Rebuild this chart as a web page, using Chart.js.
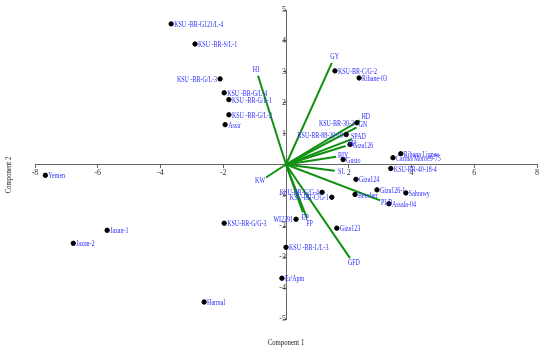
<!DOCTYPE html>
<html>
<head>
<meta charset="utf-8">
<script src="https://cdn.jsdelivr.net/npm/chart.js@4"></script>
<style>
  html, body { margin: 0; padding: 0; background: #fff; }
  #wrap { width: 550px; height: 356px; }
</style>
</head>
<body>
<div id="wrap"><canvas id="biplot"></canvas></div>
<script>
// genotype scores (Component 1 / Component 2)
const genotypes = [
    "KSU -BR-G121/L-4", "KSU -BR-S/L-1", "KSU -BR-G/L-3", "KSU -BR-G/L-4", "KSU -BR-G/L-1",
    "KSU -BR-G/L-2", "Assir", "KSU-BR-C/G-2", "Rihane-03", "KSU-BR-30-2",
    "KSU-BR-88-20-10", "Giza126", "Gusto", "Rihana Lignee", "Carina/Moroc9-75",
    "KSU-BR-40-18-4", "Giza124", "Giza126-1", "Sahrawy", "Beecher",
    "Assala-04", "KSU-BR-G/G-4", "KSU-BR-C/G-1", "WI2291", "KSU-BR-G/G-3",
    "Giza123", "KSU -BR-L/L-3", "Er/Apm", "Harmal", "Yemen", "Jazan-1", "Jazan-2"
];
const genoPc1 = [
    -3.66, -2.90, -2.10, -1.97, -1.82,
    -1.82, -1.94, 1.56, 2.33, 2.26,
    1.92, 2.04, 1.82, 3.66, 3.41,
    3.34, 2.23, 2.90, 3.82, 2.20,
    3.28, 1.15, 1.46, 0.32, -1.97,
    1.62, 0.00, -0.13, -2.61, -7.67, -5.70, -6.78
];
const genoPc2 = [
    4.55, 3.90, 2.77, 2.32, 2.10,
    1.61, 1.29, 3.03, 2.80, 1.35,
    0.97, 0.65, 0.16, 0.35, 0.22,
    -0.13, -0.48, -0.82, -0.92, -0.97,
    -1.27, -0.90, -1.06, -1.77, -1.90,
    -2.06, -2.68, -3.68, -4.45, -0.35, -2.13, -2.55
];

// trait loadings (vectors from the origin)
const traits = ["HI", "GY", "HD", "GN", "SPAD", "PH", "BIY", "SL", "PLD", "KW", "GFD", "EP", "FP"];
const traitPc1 = [-0.89, 1.46, 2.35, 2.25, 2.10, 1.90, 1.60, 1.55, 3.00, -0.64, 2.04, 0.54, 0.67];
const traitPc2 = [2.87, 3.29, 1.43, 1.20, 0.82, 0.60, 0.25, -0.20, -1.16, -0.42, -3.03, -1.55, -1.74];

const xTicks = [-8, -6, -4, -2, 0, 2, 4, 6, 8];
const yTicks = [-5, -4, -3, -2, -1, 0, 1, 2, 3, 4, 5];

// labels written to the left of their dot
const leftLabels = ["KSU -BR-G/L-3", "KSU-BR-30-2", "KSU-BR-88-20-10", "KSU-BR-G/G-4", "KSU-BR-C/G-1", "WI2291"];

const labelFont = "8px 'Liberation Serif'";
const labelColor = "#2b2bff";

function drawSqueezed(ctx, text, x, y, align) {
    const sx = 0.75;
    const w = ctx.measureText(text).width * sx;
    let left = x;
    if (align === "right") left = x - w;
    if (align === "center") left = x - w / 2;
    ctx.save();
    ctx.translate(left, y);
    ctx.scale(sx, 1);
    ctx.textAlign = "left";
    ctx.fillText(text, 0, 0);
    ctx.restore();
}

const labelPlugin = {
    id: "labels",
    afterDatasetsDraw(chart) {
        const ctx = chart.ctx;
        const xs = chart.scales.x, ys = chart.scales.y;
        ctx.save();
        ctx.font = labelFont;
        ctx.fillStyle = labelColor;
        ctx.textBaseline = "middle";

        genotypes.forEach((name, i) => {
            const px = xs.getPixelForValue(genoPc1[i]);
            const py = ys.getPixelForValue(genoPc2[i]);
            if (leftLabels.includes(name)) {
                drawSqueezed(ctx, name, px - 3, py + 1, "right");
            } else {
                drawSqueezed(ctx, name, px + 3, py + 1, "left");
            }
        });

        const ox = xs.getPixelForValue(0), oy = ys.getPixelForValue(0);
        traits.forEach((t, i) => {
            const px = xs.getPixelForValue(traitPc1[i]);
            const py = ys.getPixelForValue(traitPc2[i]);
            const dx = px - ox, dy = py - oy;
            const len = Math.sqrt(dx * dx + dy * dy) || 1;
            drawSqueezed(ctx, t, px + dx / len * 7, py + dy / len * 6, "center");
        });

        // axis titles
        ctx.fillStyle = "#222";
        ctx.font = "9px 'Liberation Serif'";
        ctx.textBaseline = "middle";
        drawSqueezed(ctx, "Component 1", (chart.chartArea.left + chart.chartArea.right) / 2, 343, "center");
        ctx.save();
        ctx.translate(9, 175);
        ctx.rotate(-Math.PI / 2);
        drawSqueezed(ctx, "Component 2", 0, 0, "center");
        ctx.restore();
        ctx.restore();
    }
};

const vectorSets = traits.map((t, i) => ({
    type: "line",
    label: t,
    data: [{x: 0, y: 0}, {x: traitPc1[i], y: traitPc2[i]}],
    borderColor: "#109010",
    borderWidth: 2,
    pointRadius: 0,
    showLine: true,
    order: 2
}));

const pointSet = {
    type: "scatter",
    label: "Genotypes",
    data: genotypes.map((g, i) => ({x: genoPc1[i], y: genoPc2[i]})),
    backgroundColor: "#000",
    borderColor: "#000",
    pointRadius: 2.2,
    order: 1
};

const tickFont = {family: "'Liberation Serif'", size: 8};

new Chart(document.getElementById("biplot"), {
    type: "scatter",
    data: {datasets: [pointSet].concat(vectorSets)},
    options: {
        responsive: true,
        maintainAspectRatio: false,
        animation: false,
        layout: {padding: {left: 35, right: 13, top: 10, bottom: 37}},
        plugins: {legend: {display: false}, tooltip: {enabled: false}},
        scales: {
            x: {
                type: "linear",
                position: {y: 0},
                min: -8, max: 8,
                afterBuildTicks: s => { s.ticks = xTicks.map(v => ({value: v})); },
                ticks: {
                    font: tickFont, color: "#333", padding: 1, maxRotation: 0,
                    callback: v => v === 0 ? "" : v
                },
                grid: {display: true, drawOnChartArea: false, drawTicks: true, tickLength: 3, color: "#666"},
                border: {display: true, color: "#666", width: 1}
            },
            y: {
                type: "linear",
                position: {x: 0},
                min: -5, max: 5,
                afterBuildTicks: s => { s.ticks = yTicks.map(v => ({value: v})); },
                ticks: {
                    font: tickFont, color: "#333", padding: 1,
                    callback: v => v === 0 ? "" : v
                },
                grid: {display: true, drawOnChartArea: false, drawTicks: true, tickLength: 3, color: "#666"},
                border: {display: true, color: "#666", width: 1}
            }
        }
    },
    plugins: [labelPlugin]
});
</script>
</body>
</html>
